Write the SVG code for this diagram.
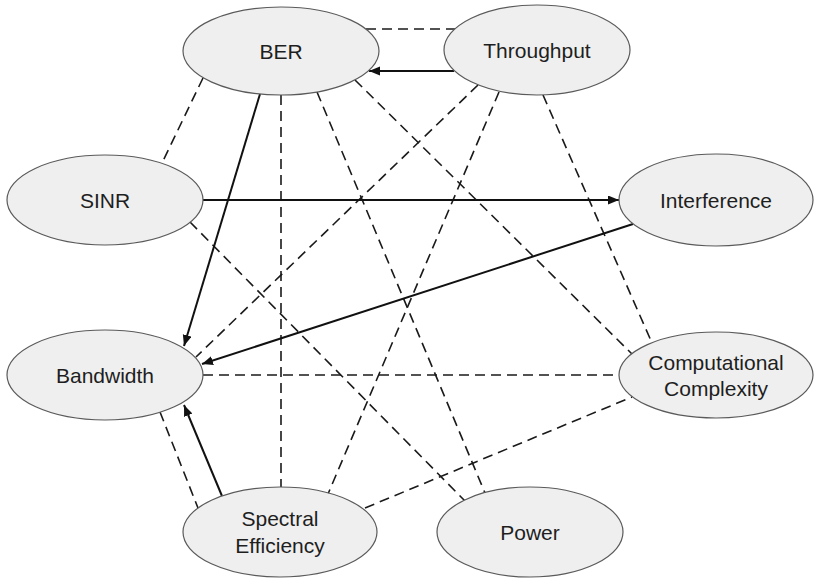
<svg xmlns="http://www.w3.org/2000/svg" width="814" height="580" viewBox="0 0 814 580">
  <style>
    .node ellipse { fill: #efefef; stroke: #5a5a5a; stroke-width: 1.2; }
    .node text { font-family: "Liberation Sans", Arial, sans-serif; font-size: 21px; fill: #1e1e1e; text-anchor: middle; dominant-baseline: central; }
    .dash { stroke: #1a1a1a; stroke-width: 1.6; stroke-dasharray: 10 6; fill: none; }
    .arrow { stroke: #111; stroke-width: 2; fill: none; marker-end: url(#head); }
  </style>
  <defs>
    <marker id="head" markerUnits="userSpaceOnUse" markerWidth="12" markerHeight="10" refX="11" refY="4.5" orient="auto">
      <path d="M0,0 L11,4.5 L0,9 Z" fill="#111"/>
    </marker>
  </defs>

  <g id="connectors">
    <!-- undirected relations -->
    <line class="dash" x1="366" y1="29" x2="455" y2="29"/>
    <line class="dash" x1="203" y1="78" x2="162" y2="163"/>
    <line class="dash" x1="281" y1="95" x2="281" y2="487"/>
    <line class="dash" x1="317" y1="92" x2="485" y2="493"/>
    <line class="dash" x1="355" y1="80" x2="632" y2="354"/>
    <line class="dash" x1="478" y1="85" x2="196" y2="357"/>
    <line class="dash" x1="499" y1="92" x2="328" y2="494"/>
    <line class="dash" x1="543" y1="95" x2="652" y2="343"/>
    <line class="dash" x1="190" y1="222" x2="465" y2="501"/>
    <line class="dash" x1="203" y1="375" x2="619" y2="375"/>
    <line class="dash" x1="160" y1="412" x2="198" y2="508"/>
    <line class="dash" x1="365" y1="508" x2="632" y2="397"/>
    <!-- directed relations -->
    <line class="arrow" x1="454" y1="71" x2="369" y2="71"/>
    <line class="arrow" x1="203" y1="200" x2="619" y2="200"/>
    <line class="arrow" x1="260" y1="94" x2="184" y2="346"/>
    <line class="arrow" x1="633" y1="224" x2="202" y2="364"/>
    <line class="arrow" x1="222" y1="496" x2="184" y2="405"/>
  </g>

  <g id="ber" class="node">
    <ellipse cx="281" cy="51" rx="98" ry="44"/>
    <text x="281" y="51">BER</text>
  </g>
  <g id="throughput" class="node">
    <ellipse cx="537" cy="50" rx="93" ry="45"/>
    <text x="537" y="50">Throughput</text>
  </g>
  <g id="sinr" class="node">
    <ellipse cx="105" cy="200" rx="98" ry="45"/>
    <text x="105" y="200">SINR</text>
  </g>
  <g id="interference" class="node">
    <ellipse cx="716" cy="200" rx="97" ry="46"/>
    <text x="716" y="200">Interference</text>
  </g>
  <g id="bandwidth" class="node">
    <ellipse cx="105" cy="375" rx="98" ry="45"/>
    <text x="105" y="375">Bandwidth</text>
  </g>
  <g id="complexity" class="node">
    <ellipse cx="716" cy="375" rx="97" ry="43"/>
    <text x="716" y="362">Computational</text>
    <text x="716" y="388">Complexity</text>
  </g>
  <g id="spectral-efficiency" class="node">
    <ellipse cx="280" cy="532" rx="97" ry="45"/>
    <text x="280" y="518">Spectral</text>
    <text x="280" y="545">Efficiency</text>
  </g>
  <g id="power" class="node">
    <ellipse cx="530" cy="532" rx="93" ry="45"/>
    <text x="530" y="532">Power</text>
  </g>
</svg>
